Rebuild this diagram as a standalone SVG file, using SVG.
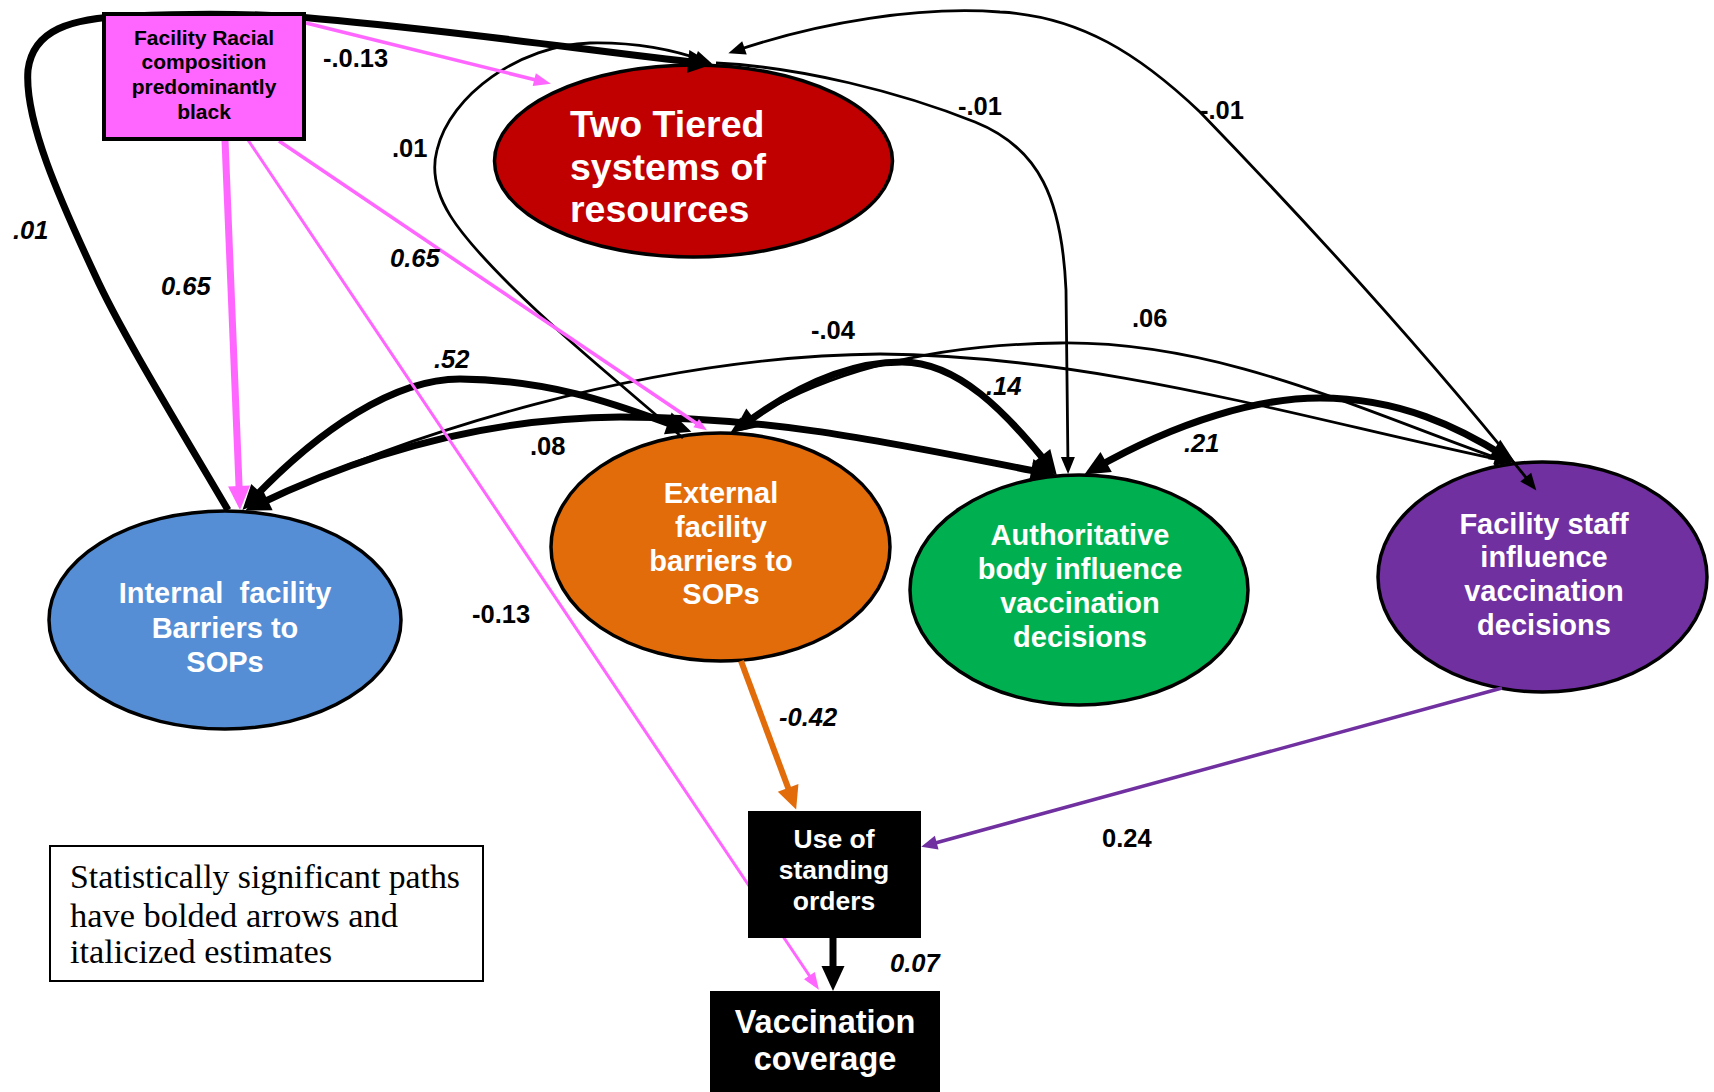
<svg xmlns="http://www.w3.org/2000/svg" width="1714" height="1092" viewBox="0 0 1714 1092">
  <style>
    .bg { fill: #ffffff; }
    .ell { stroke: #000; stroke-width: 3.5; }
    .nt { font-family: "Liberation Sans", Arial, sans-serif; font-weight: bold; fill: #fff; text-anchor: middle; }
    .pt { font-family: "Liberation Sans", Arial, sans-serif; font-weight: bold; fill: #000; text-anchor: middle; font-size: 21px; }
    .lbl { font-family: "Liberation Sans", Arial, sans-serif; font-weight: bold; font-size: 25.5px; fill: #000; }
    .it { font-style: italic; }
    .leg { font-family: "Liberation Serif", "Times New Roman", serif; font-size: 34px; fill: #000; }
    .thick { fill: none; stroke: #000; stroke-width: 7; }
    .thin { fill: none; stroke: #000; stroke-width: 2.8; }
    .pink { fill: none; stroke: #FF66FF; }
  </style>
  <defs>
    <marker id="hk" markerUnits="userSpaceOnUse" markerWidth="25" markerHeight="23" refX="14" refY="11.5" orient="auto-start-reverse" overflow="visible">
      <path d="M0,0 L25,11.5 L0,23 z" fill="#000"/>
    </marker>
    <marker id="hs" markerUnits="userSpaceOnUse" markerWidth="17" markerHeight="14" refX="10" refY="7" orient="auto-start-reverse" overflow="visible">
      <path d="M0,0 L17,7 L0,14 z" fill="#000"/>
    </marker>
    <marker id="hpb" markerUnits="userSpaceOnUse" markerWidth="24" markerHeight="22" refX="14" refY="11" orient="auto" overflow="visible">
      <path d="M0,0 L24,11 L0,22 z" fill="#FF66FF"/>
    </marker>
    <marker id="hps" markerUnits="userSpaceOnUse" markerWidth="17" markerHeight="13" refX="10" refY="6.5" orient="auto" overflow="visible">
      <path d="M0,0 L17,6.5 L0,13 z" fill="#FF66FF"/>
    </marker>
    <marker id="hpt" markerUnits="userSpaceOnUse" markerWidth="13" markerHeight="10" refX="7" refY="5" orient="auto" overflow="visible">
      <path d="M0,0 L13,5 L0,10 z" fill="#FF66FF"/>
    </marker>
    <marker id="ho" markerUnits="userSpaceOnUse" markerWidth="23" markerHeight="22" refX="14" refY="11" orient="auto" overflow="visible">
      <path d="M0,0 L23,11 L0,22 z" fill="#E26B0A"/>
    </marker>
    <marker id="hu" markerUnits="userSpaceOnUse" markerWidth="16" markerHeight="14" refX="9" refY="7" orient="auto" overflow="visible">
      <path d="M0,0 L16,7 L0,14 z" fill="#7030A0"/>
    </marker>
  </defs>

  <rect class="bg" x="0" y="0" width="1714" height="1092"/>

  <!-- oval constructs -->
  <g id="two-tiered">
    <ellipse class="ell" cx="693.5" cy="161" rx="199" ry="96" fill="#C00000"/>
    <text class="nt" style="text-anchor:start" font-size="37.5" x="570" y="137">Two Tiered</text>
    <text class="nt" style="text-anchor:start" font-size="37.5" x="570" y="180">systems of</text>
    <text class="nt" style="text-anchor:start" font-size="37.5" x="570" y="222">resources</text>
  </g>
  <g id="internal-barriers">
    <ellipse class="ell" cx="225" cy="620" rx="176" ry="109" fill="#558ED5"/>
    <text class="nt" font-size="29" x="225" y="603" xml:space="preserve">Internal  facility</text>
    <text class="nt" font-size="29" x="225" y="637.5">Barriers to</text>
    <text class="nt" font-size="29" x="225" y="672">SOPs</text>
  </g>
  <g id="external-barriers">
    <ellipse class="ell" cx="720.5" cy="547" rx="169.5" ry="114" fill="#E26B0A"/>
    <text class="nt" font-size="29" x="721" y="503">External</text>
    <text class="nt" font-size="29" x="721" y="537">facility</text>
    <text class="nt" font-size="29" x="721" y="571">barriers to</text>
    <text class="nt" font-size="29" x="721" y="604">SOPs</text>
  </g>
  <g id="authoritative-body">
    <ellipse class="ell" cx="1079" cy="590" rx="169" ry="115" fill="#00B050"/>
    <text class="nt" font-size="29" x="1080" y="545">Authoritative</text>
    <text class="nt" font-size="29" x="1080" y="579">body influence</text>
    <text class="nt" font-size="29" x="1080" y="613">vaccination</text>
    <text class="nt" font-size="29" x="1080" y="647">decisions</text>
  </g>
  <g id="facility-staff">
    <ellipse class="ell" cx="1542.5" cy="577" rx="164.5" ry="115" fill="#7030A0"/>
    <text class="nt" font-size="29" x="1544" y="533.5">Facility staff</text>
    <text class="nt" font-size="29" x="1544" y="567">influence</text>
    <text class="nt" font-size="29" x="1544" y="601">vaccination</text>
    <text class="nt" font-size="29" x="1544" y="635">decisions</text>
  </g>

  <!-- paths between constructs -->
  <g id="connectors">
    <!-- internal barriers -> two tiered (around the racial composition box) -->
    <path class="thick" d="M 228,510 C 175,420 120,330 95,275 C 60,200 24,120 28,70 C 33,30 70,18 130,16 C 200,13 270,14 320,19 C 450,30 600,52 702,63" marker-end="url(#hk)"/>
    <!-- external barriers -> two tiered -->
    <path class="thin" d="M 683,438 C 625,388 560,335 510,285 C 460,235 425,195 437,150 C 450,95 520,45 590,43 C 640,42 680,52 705,61" marker-end="url(#hs)"/>
    <!-- two tiered -> authoritative body -->
    <path class="thin" d="M 716,63 C 800,67 900,92 975,122 C 1040,148 1062,200 1066,290 L 1068,467" marker-end="url(#hs)"/>
    <!-- two tiered <-> facility staff -->
    <path class="thin" d="M 735,51 C 820,22 920,6 1000,12 C 1080,16 1140,55 1200,112 C 1290,205 1420,345 1532,485" marker-start="url(#hs)" marker-end="url(#hs)"/>
    <!-- covariances among the four mediators -->
    <path class="thick" d="M 250,502 C 320,428 395,379 460,379 C 560,380 630,410 681,428" marker-start="url(#hk)" marker-end="url(#hk)"/>
    <path class="thick" d="M 255,506 C 360,455 480,418 620,417 C 780,417 900,445 1045,473" marker-start="url(#hk)" marker-end="url(#hk)"/>
    <path class="thin" d="M 254,506 C 400,435 650,356 880,354 C 1100,356 1300,418 1505,461" marker-start="url(#hs)" marker-end="url(#hs)"/>
    <path class="thin" d="M 736,429 C 800,385 900,345 1060,343 C 1220,341 1360,410 1505,461" marker-start="url(#hs)" marker-end="url(#hs)"/>
    <path class="thick" d="M 742,426 C 790,390 845,362 902,362 C 958,362 1006,412 1050,467" marker-start="url(#hk)" marker-end="url(#hk)"/>
    <path class="thick" d="M 1094,469 C 1180,420 1260,398 1320,398 C 1400,398 1460,428 1506,457" marker-start="url(#hk)" marker-end="url(#hk)"/>
    <!-- racial composition paths -->
    <path class="pink" stroke-width="3.5" d="M 306,23 L 544,82" marker-end="url(#hps)"/>
    <path class="pink" stroke-width="7" d="M 225,140 L 239.6,500" marker-end="url(#hpb)"/>
    <path class="pink" stroke-width="3" d="M 248,140 L 815,984" marker-end="url(#hps)"/>
    <path class="pink" stroke-width="3.5" d="M 279,141 L 702,427" marker-end="url(#hpt)"/>
    <!-- paths to standing orders and coverage -->
    <path fill="none" stroke="#E26B0A" stroke-width="6" d="M 741,661 L 793,801" marker-end="url(#ho)"/>
    <path fill="none" stroke="#7030A0" stroke-width="3.5" d="M 1502,688 L 928,845" marker-end="url(#hu)"/>
    <path fill="none" stroke="#000" stroke-width="7" d="M 833,938 L 833,980" marker-end="url(#hk)"/>
  </g>

  <!-- rectangular nodes -->
  <g id="racial-composition">
    <rect x="104" y="14" width="200" height="125" fill="#FF66FF" stroke="#000" stroke-width="4"/>
    <text class="pt" x="204" y="45">Facility Racial</text>
    <text class="pt" x="204" y="69">composition</text>
    <text class="pt" x="204" y="94">predominantly</text>
    <text class="pt" x="204" y="119">black</text>
  </g>
  <g id="standing-orders">
    <rect x="748" y="811" width="173" height="127" fill="#000"/>
    <text class="nt" font-size="26.5" x="834" y="848">Use of</text>
    <text class="nt" font-size="26.5" x="834" y="879">standing</text>
    <text class="nt" font-size="26.5" x="834" y="910">orders</text>
  </g>
  <g id="vaccination-coverage">
    <rect x="710" y="991" width="230" height="101" fill="#000"/>
    <text class="nt" font-size="32.5" x="825" y="1033">Vaccination</text>
    <text class="nt" font-size="32.5" x="825" y="1070">coverage</text>
  </g>

  <!-- path estimates -->
  <g id="estimates">
    <text class="lbl" x="323" y="67">-.0.13</text>
    <text class="lbl it" x="13" y="239">.01</text>
    <text class="lbl it" x="161" y="295">0.65</text>
    <text class="lbl" x="392" y="157">.01</text>
    <text class="lbl it" x="390" y="267">0.65</text>
    <text class="lbl" x="958" y="115">-.01</text>
    <text class="lbl" x="1200" y="119">-.01</text>
    <text class="lbl" x="1132" y="327">.06</text>
    <text class="lbl it" x="1184" y="452">.21</text>
    <text class="lbl it" x="986" y="395">.14</text>
    <text class="lbl" x="811" y="339">-.04</text>
    <text class="lbl it" x="434" y="368">.52</text>
    <text class="lbl" x="530" y="455">.08</text>
    <text class="lbl" x="472" y="623">-0.13</text>
    <text class="lbl it" x="779" y="726">-0.42</text>
    <text class="lbl" x="1102" y="847">0.24</text>
    <text class="lbl it" x="890" y="972">0.07</text>
  </g>

  <!-- key -->
  <g id="legend">
    <rect x="50" y="846" width="433" height="135" fill="#fff" stroke="#000" stroke-width="2"/>
    <text class="leg" x="70" y="888" textLength="390" lengthAdjust="spacingAndGlyphs">Statistically significant paths</text>
    <text class="leg" x="70" y="927" textLength="328" lengthAdjust="spacingAndGlyphs">have bolded arrows and</text>
    <text class="leg" x="70" y="963" textLength="262" lengthAdjust="spacingAndGlyphs">italicized estimates</text>
  </g>
</svg>
